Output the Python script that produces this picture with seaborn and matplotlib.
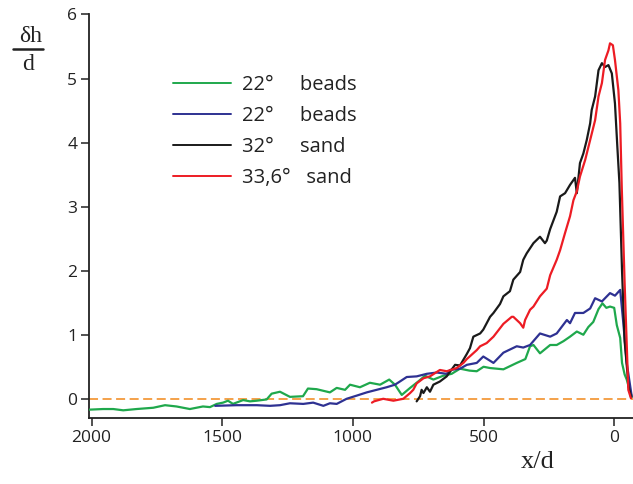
import numpy as np
import pandas as pd
import matplotlib
matplotlib.use("Agg")
import matplotlib.pyplot as plt
from matplotlib.lines import Line2D
import seaborn as sns

# ---- data ----
green_x = [2010, 1956, 1917, 1879, 1828, 1764, 1719, 1675, 1624, 1574, 1547, 1521, 1497, 1478,
           1459, 1420, 1394, 1368, 1330, 1311, 1279, 1241, 1191, 1172, 1139, 1088, 1062, 1030,
           1011, 973, 935, 896, 861, 839, 813, 781, 750, 724, 692, 654, 622, 590, 554, 526, 500,
           475, 424, 373, 340, 322, 309, 284, 245, 220, 194, 169, 143, 118, 99, 80, 60, 45, 30,
           16, 0, -10, -23, -30, -40, -48, -58, -68]
green_y = [-0.17, -0.16, -0.16, -0.18, -0.16, -0.14, -0.10, -0.12, -0.16, -0.12, -0.13, -0.08,
           -0.06, -0.03, -0.08, -0.02, -0.04, -0.03, -0.01, 0.08, 0.11, 0.03, 0.04, 0.16, 0.15,
           0.10, 0.17, 0.14, 0.22, 0.18, 0.25, 0.22, 0.30, 0.22, 0.06, 0.17, 0.27, 0.36, 0.30,
           0.36, 0.39, 0.47, 0.44, 0.43, 0.50, 0.48, 0.46, 0.56, 0.62, 0.82, 0.84, 0.71, 0.84,
           0.84, 0.90, 0.97, 1.05, 1.00, 1.12, 1.20, 1.40, 1.49, 1.42, 1.44, 1.42, 1.15, 0.95,
           0.56, 0.38, 0.30, 0.15, 0.03]

blue_x = [1527, 1445, 1368, 1317, 1279, 1241, 1190, 1152, 1113, 1088, 1062, 1024, 985, 947, 909,
          871, 839, 820, 794, 756, 717, 679, 641, 628, 590, 564, 526, 501, 462, 424, 373, 348,
          322, 284, 245, 220, 181, 169, 150, 118, 92, 73, 47, 16, -3, -23, -35, -48, -67]
blue_y = [-0.11, -0.10, -0.10, -0.11, -0.10, -0.07, -0.08, -0.06, -0.11, -0.07, -0.08, 0.00,
          0.05, 0.10, 0.14, 0.18, 0.22, 0.27, 0.34, 0.35, 0.39, 0.41, 0.39, 0.45, 0.47, 0.53,
          0.56, 0.66, 0.56, 0.72, 0.82, 0.80, 0.84, 1.02, 0.97, 1.02, 1.23, 1.18, 1.34, 1.34,
          1.41, 1.57, 1.52, 1.65, 1.61, 1.70, 1.18, 0.56, 0.04]

black_x = [756, 743, 737, 730, 717, 705, 692, 667, 641, 609, 590, 564, 552, 539, 513, 501, 475,
           462, 437, 424, 399, 386, 360, 348, 335, 309, 284, 265, 258, 245, 220, 207, 188, 169,
           150, 143, 131, 118, 105, 92, 86, 73, 60, 47, 35, 22, 9, -3, -12, -20, -30, -40, -55,
           -65]
black_y = [-0.04, 0.04, 0.14, 0.09, 0.18, 0.11, 0.22, 0.27, 0.35, 0.53, 0.52, 0.70, 0.79, 0.97,
           1.02, 1.08, 1.28, 1.34, 1.48, 1.60, 1.68, 1.86, 1.98, 2.17, 2.27, 2.43, 2.53, 2.43,
           2.47, 2.65, 2.92, 3.16, 3.21, 3.34, 3.45, 3.21, 3.68, 3.83, 4.04, 4.30, 4.51, 4.72,
           5.13, 5.24, 5.18, 5.21, 5.08, 4.61, 3.94, 3.37, 2.00, 0.90, 0.20, 0.02]

red_x = [927, 919, 884, 845, 807, 781, 769, 756, 730, 705, 667, 641, 603, 577, 564, 526, 513,
         488, 462, 424, 392, 386, 360, 348, 341, 322, 309, 284, 258, 245, 220, 207, 188, 169,
         156, 143, 131, 111, 92, 73, 60, 47, 35, 22, 16, 5, -3, -16, -23, -29, -40, -54, -64]
red_y = [-0.06, -0.04, 0.00, -0.03, 0.00, 0.09, 0.14, 0.24, 0.32, 0.35, 0.45, 0.43, 0.48, 0.56,
         0.62, 0.76, 0.82, 0.87, 0.97, 1.17, 1.28, 1.28, 1.18, 1.11, 1.23, 1.39, 1.44, 1.60,
         1.72, 1.93, 2.17, 2.32, 2.59, 2.85, 3.10, 3.24, 3.47, 3.73, 4.04, 4.35, 4.72, 4.93,
         5.29, 5.44, 5.55, 5.52, 5.29, 4.82, 4.30, 3.30, 1.80, 0.14, 0.01]

series_labels = ["22°     beads", "22°     beads", "32°     sand", "33,6°   sand"]
series_colors = ["#1fa84c", "#2e3192", "#1a1a1a", "#ed1c24"]
x_ticks = [2000, 1500, 1000, 500, 0]
y_ticks = [0, 1, 2, 3, 4, 5, 6]

# ---- plot ----
sns.set_style("ticks")
plt.rcParams['font.family'] = ['Open Sans', 'DejaVu Sans']

fig = plt.figure(figsize=(6.33, 4.84), dpi=100)
ax = fig.add_axes([89/633, 1 - 418/484, (633 - 89)/633, (418 - 14.5)/484])

ax.axhline(0, color="#f39a3c", lw=1.3, dashes=(5, 2.5), zorder=1)

all_series = [(green_x, green_y), (blue_x, blue_y), (black_x, black_y), (red_x, red_y)]
for (xs, ys), lab, col in zip(all_series, series_labels, series_colors):
    df = pd.DataFrame({"x": xs, "y": ys})
    sns.lineplot(data=df, x="x", y="y", ax=ax, color=col, lw=1.6, estimator=None,
                 sort=False, legend=False, zorder=3)

ax.set_xlim(2010, -72)
ax.set_ylim(-0.30, 6.0)
ax.set_xticks(x_ticks)
ax.set_yticks(y_ticks)
ax.set_xlabel("")
ax.set_ylabel("")
sns.despine(ax=ax)
for s in ["left", "bottom"]:
    ax.spines[s].set_linewidth(1.3)
    ax.spines[s].set_color("#222222")
ax.tick_params(axis="both", direction="out", length=5.5, width=1.1, color="#222222",
               labelsize=12.5, labelcolor="#222222", pad=3)

handles = [Line2D([0], [0], color=c, lw=1.4) for c in series_colors]
leg = ax.legend(handles, series_labels, loc="upper left",
                bbox_to_anchor=(173/633, 1 - 75/484), bbox_transform=fig.transFigure,
                frameon=False, fontsize=14.5, handlelength=2.9, handletextpad=0.55,
                labelspacing=0.54, borderpad=0, borderaxespad=0)
for t in leg.get_texts():
    t.set_color("#222222")

serif = ['Liberation Serif', 'DejaVu Serif']
fig.text(30.5/633, 1 - 36/484, "δh", family=serif, fontsize=17, ha="center", va="center",
         color="#222222")
fig.add_artist(Line2D([13/633, 43/633], [1 - 49/484, 1 - 49/484], color="#222222", lw=1.8,
                      transform=fig.transFigure))
fig.text(28.5/633, 1 - 65/484, "d", family=serif, fontsize=17, ha="center", va="center",
         color="#222222")
fig.text(538/633, 1 - 462/484, "x/d", family=serif, fontsize=19, ha="center", va="center",
         color="#222222")

fig.savefig("out.png", dpi=100)
